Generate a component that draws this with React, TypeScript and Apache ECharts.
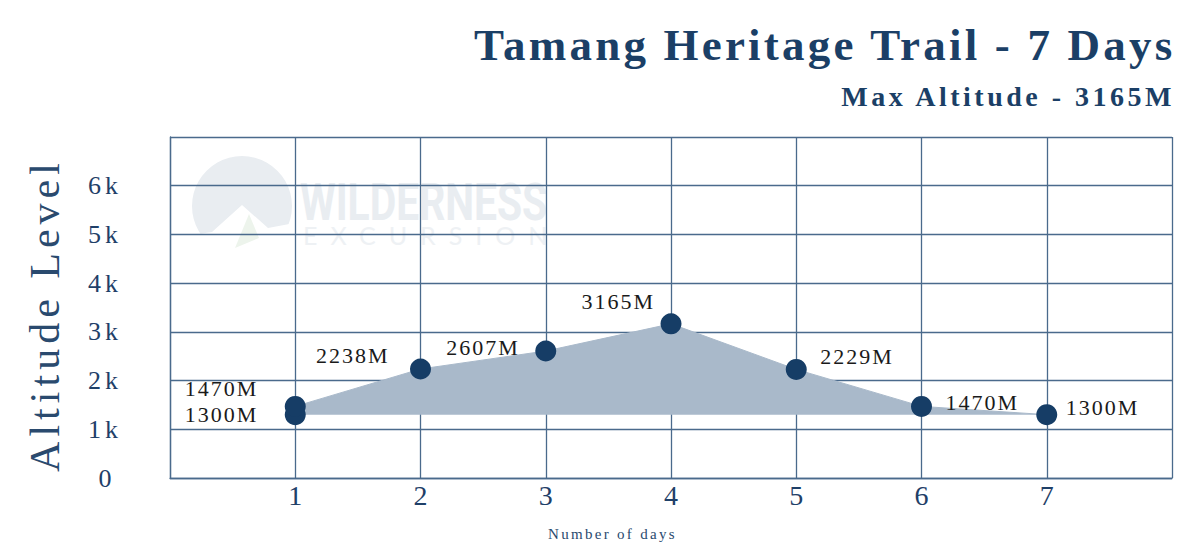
import React, { useEffect, useRef } from 'react';
import * as echarts from 'echarts';

// ---- data ----
const days = [1, 1, 2, 3, 4, 5, 6, 7];
const altitudes = [1300, 1470, 2238, 2607, 3165, 2229, 1470, 1300];
const dayTicks = [1, 2, 3, 4, 5, 6, 7];
const altitudeTickLabels = ['0', '1k', '2k', '3k', '4k', '5k', '6k'];
const titleText = 'Tamang Heritage Trail - 7 Days';
const xName = 'Number of days';
const yName = 'Altitude Level';
const brandTop = 'WILDERNESS';
const brandBottom = 'EXCURSION';

const SERIF = '"Liberation Serif", "Times New Roman", serif';
const NAVY = '#1b3f66';
const GRIDC = '#4a6a8c';

export default function App() {
  const ref = useRef<HTMLDivElement>(null);

  useEffect(() => {
    document.body.style.margin = '0';
    const el = ref.current!;
    const chart = echarts.init(el, undefined, { renderer: 'svg' });

    const maxAlt = Math.max(...altitudes);
    const subtitleText = `Max Altitude - ${maxAlt}M`;

    const TITLE_SP = 3.2;
    const SUB_SP = 3.5;

    // label placement per point (position side, offset)
    const labelPlace: Array<[string, number, number]> = [
      ['left', -26.5, 0],
      ['left', -26.5, -18],
      ['left', -20.5, -13],
      ['left', -15.5, -4],
      ['left', -5.5, -22],
      ['right', 13.5, -13],
      ['right', 13.5, -4],
      ['right', 8.5, -7],
    ];

    const data = days.map((d, i) => ({
      value: [d, altitudes[i]],
      label: {
        position: labelPlace[i][0],
        offset: [labelPlace[i][1], labelPlace[i][2]],
      },
    }));

    const option: any = {
      animation: false,
      backgroundColor: '#ffffff',
      title: [
        {
          text: titleText,
          right: 22 + (titleText.length - 1) * TITLE_SP,
          top: 17,
          textStyle: { fontFamily: SERIF, fontSize: 45, fontWeight: 'bold', color: NAVY },
        },
        {
          text: subtitleText,
          right: 22 + (subtitleText.length - 1) * SUB_SP,
          top: 77,
          textStyle: { fontFamily: SERIF, fontSize: 28, fontWeight: 'bold', color: NAVY },
        },
        {
          text: xName,
          left: 543,
          top: 521,
          textStyle: { fontFamily: SERIF, fontSize: 15, fontWeight: 'normal', color: '#2a4a6e' },
        },
      ],
      grid: { left: 170, right: 28, top: 137, bottom: 78, containLabel: false },
      xAxis: {
        type: 'value',
        min: 0,
        max: 8,
        interval: 1,
        axisLine: { show: true, lineStyle: { color: GRIDC, width: 1.3 } },
        axisTick: { show: false },
        splitLine: { show: true, lineStyle: { color: GRIDC, width: 1.3 } },
        axisLabel: {
          margin: 3,
          fontFamily: SERIF,
          fontSize: 28,
          color: '#1f4068',
          formatter: (v: number) => (dayTicks.includes(v) ? String(v) : ''),
        },
      },
      yAxis: {
        type: 'value',
        min: 0,
        max: 7000,
        interval: 1000,
        axisLine: { show: true, lineStyle: { color: GRIDC, width: 1.3 } },
        axisTick: { show: false },
        splitLine: { show: true, lineStyle: { color: GRIDC, width: 1.3 } },
        axisLabel: {
          margin: 65,
          align: 'center',
          fontFamily: SERIF,
          fontSize: 26,
          color: '#1f4068',
          formatter: (v: number) => altitudeTickLabels[Math.round(v / 1000)] ?? '',
        },
      },
      graphic: [
        { type: 'circle', z: -10, shape: { cx: 242, cy: 206, r: 50 }, style: { fill: '#e9edf1' } },
        {
          type: 'polygon',
          z: -9,
          shape: { points: [[185, 270], [185, 236], [212, 232], [242, 205], [268, 228], [300, 222], [300, 270]] },
          style: { fill: '#ffffff' },
        },
        {
          type: 'polygon',
          z: -8,
          shape: { points: [[235, 248], [249, 214], [259, 238]] },
          style: { fill: '#edf4ec' },
        },
        {
          type: 'text',
          z: -8,
          x: 300,
          y: 177,
          scaleX: 0.8,
          style: {
            text: brandTop,
            fontFamily: 'Roboto, "Open Sans", sans-serif',
            fontWeight: 'bold',
            fontSize: 51,
            fill: '#e9edf1',
            verticalAlign: 'top',
          },
        },
        {
          type: 'text',
          z: -8,
          x: 303,
          y: 222,
          style: {
            text: brandBottom,
            fontFamily: 'Lato, "Open Sans", sans-serif',
            fontWeight: 'normal',
            fontSize: 25,
            fill: '#eef1f4',
            verticalAlign: 'top',
          },
        },
        {
          type: 'text',
          x: 45,
          y: 315,
          rotation: Math.PI / 2,
          style: {
            text: yName,
            fontFamily: SERIF,
            fontSize: 42,
            fill: '#2a4a6e',
            align: 'center',
            verticalAlign: 'middle',
          },
        },
      ],
      series: [
        {
          type: 'line',
          data,
          symbol: 'circle',
          symbolSize: 21,
          itemStyle: { color: '#163d66' },
          lineStyle: { color: '#a9b9ca', width: 1 },
          areaStyle: { color: '#a9b9ca', opacity: 1, origin: 1300 },
          label: {
            show: true,
            distance: 0,
            fontFamily: SERIF,
            fontSize: 22,
            lineHeight: 22,
            color: '#1a1a1a',
            formatter: (p: any) => `${p.value[1]}M`,
          },
          z: 3,
        },
      ],
    };

    chart.setOption(option);

    const spacing: Record<string, number> = {
      [titleText]: TITLE_SP,
      [subtitleText]: SUB_SP,
      [yName]: 5,
      [xName]: 2.3,
      [brandBottom]: 13,
    };
    altitudes.forEach((a) => (spacing[`${a}M`] = 2));
    altitudeTickLabels.forEach((t) => {
      if (t.endsWith('k')) spacing[t] = 4;
    });

    const applySpacing = () => {
      el.querySelectorAll('svg text').forEach((t) => {
        const s = spacing[(t.textContent || '').trim()];
        if (s != null) (t as SVGTextElement).style.letterSpacing = `${s}px`;
      });
    };
    try {
      (chart.getZr() as any).refreshImmediately();
    } catch (e) {}
    applySpacing();
    chart.on('finished', applySpacing);
    const t1 = setTimeout(applySpacing, 50);
    const t2 = setTimeout(applySpacing, 300);

    return () => {
      clearTimeout(t1);
      clearTimeout(t2);
      chart.dispose();
    };
  }, []);

  return <div ref={ref} style={{ width: 1200, height: 556 }} />;
}
